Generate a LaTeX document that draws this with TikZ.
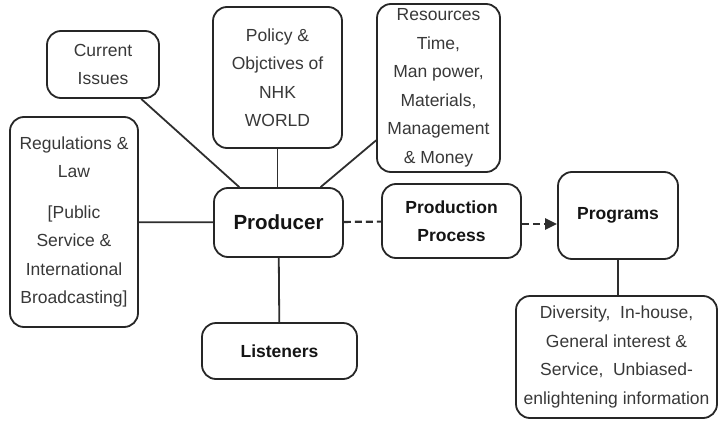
\documentclass[tikz,border=0pt]{standalone}
\usepackage{fontspec}
\setmainfont{Liberation Sans}
\usetikzlibrary{calc,arrows.meta}

\begin{document}
\begin{tikzpicture}[x=1pt, y=-1pt,
        box/.style={draw=black!85, line width=1.8pt, rounded corners=14pt, align=center, inner sep=0pt,
            text=black!78, font=\fontsize{17.5}{28.5}\selectfont},
        boldbox/.style={box, text=black!92, font=\fontsize{17.5}{28.5}\selectfont\bfseries},
        link/.style={draw=black!82, line width=1.8pt},
        dashlink/.style={link, line width=2.2pt, dash pattern=on 7pt off 4pt}]
        \useasboundingbox (0, 0) rectangle (719, 420);
        \coordinate (C) at (103, 64.5);
        \coordinate (P) at (277.5, 77.5);
        \coordinate (R) at (438.5, 88);
        \coordinate (G) at (74, 222);
        \coordinate (O) at (278.5, 222.5);
        \coordinate (L) at (279.5, 351);
        \coordinate (Q) at (451.5, 221);
        \coordinate (M) at (618, 215.5);
        \coordinate (F) at (616.5, 357);
        \node[box, minimum width=112pt, minimum height=67pt] (cur) at (C) {Current\\Issues};
        \node[box, minimum width=129pt, minimum height=141pt] (pol) at (P) {Policy \&\\Objctives of\\NHK\\WORLD};
        \node[box, minimum width=123pt, minimum height=168pt] (res) at (R) {Resources\\Time,\\Man power,\\Materials,\\Management\\\& Money};
        \node[box, minimum width=128pt, minimum height=210pt] (reg) at (G) {Regulations \&\\Law\\[12pt][Public\\Service \&\\International\\Broadcasting]};
        \node[boldbox, minimum width=129pt, minimum height=69pt, font=\fontsize{20.5}{24}\selectfont\bfseries] (prod) at (O) {Producer};
        \node[boldbox, minimum width=155pt, minimum height=56pt] (lis) at (L) {Listeners};
        \node[boldbox, minimum width=139pt, minimum height=74pt] (proc) at (Q) {Production\\Process};
        \node[boldbox, minimum width=120pt, minimum height=87pt] (prog) at (M) {Programs};
        \node[box, minimum width=201pt, minimum height=122pt] (feat) at (F) {Diversity,\ \ In-house,\\General interest \&\\Service,\ \ Unbiased-\\enlightening information};
        \draw[link] (cur) -- (prod); \draw[link] (pol.south) -- (pol.south |- prod.north); \draw[link] (res) -- (prod);
        \draw[link] (reg) -- (prod); \draw[link] (prod) -- (lis);
        \draw[dashlink] (prod) -- (proc);
        \draw[dashlink, -{Triangle[length=12pt, width=11pt]}] ([yshift=-3pt]proc.east) -- ([yshift=-3pt]proc.east -| prog.west);
        \draw[link] (prog.south) -- (prog.south |- feat.north);
    \end{tikzpicture}
\end{document}
